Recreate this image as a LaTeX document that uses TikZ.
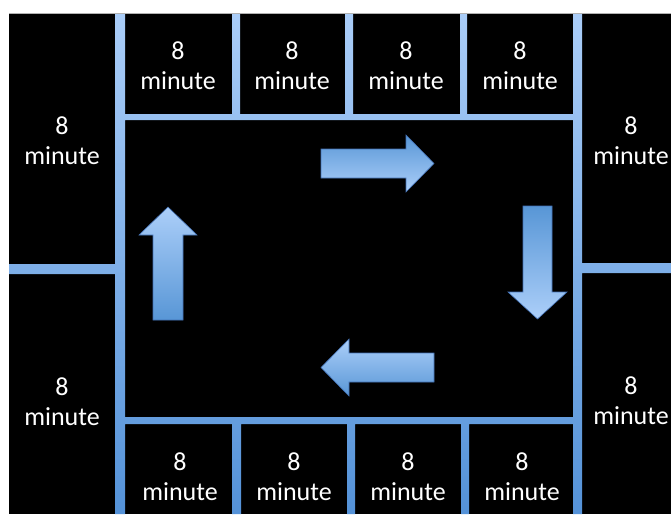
\documentclass[tikz,border=0pt]{standalone}
\usepackage{fontspec}
\setmainfont{Carlito}
\definecolor{barlight}{RGB}{170,205,248}
\definecolor{bardark}{RGB}{84,146,216}
\definecolor{arrlight}{RGB}{172,207,249}
\definecolor{arrdark}{RGB}{88,150,214}
\definecolor{arredge}{RGB}{66,112,180}
\begin{document}
\begin{tikzpicture}[x=1pt,y=-1pt,
  cell/.style={text=white,align=center,font=\fontsize{26}{30}\selectfont,inner sep=0pt},
  bars/.style={top color=barlight,bottom color=bardark},
  arrdown/.style={draw=arredge,line width=0.6pt,top color=arrdark,bottom color=arrlight},
  arrup/.style={draw=arredge,line width=0.6pt,top color=arrlight,bottom color=arrdark}]
\useasboundingbox (0,0) rectangle (671,514);
\fill[white] (0,0) rectangle (671,514);
\draw[gray!60,line width=1pt] (9,13.5) -- (671,13.5);
\fill[black] (9,14) rectangle (671,514);
% bars
\path[bars]
  (115,14) rectangle (125,514)
  (573,14) rectangle (582,514)
  (125,114) rectangle (573,120)
  (125,417) rectangle (573,424)
  (9,264) rectangle (115,274)
  (582,263) rectangle (671,273)
  (232,14) rectangle (240,114)
  (345,14) rectangle (353,114)
  (460,14) rectangle (467,114)
  (232,424) rectangle (241,514)
  (347,424) rectangle (355,514)
  (461,424) rectangle (469,514);
% arrows
\path[arrdown] (321,149) -- (406,149) -- (406,135) -- (434,163.5) -- (406,192) -- (406,178) -- (321,178) -- cycle;
\path[arrdown] (523,206) -- (552,206) -- (552,292) -- (567,292) -- (537.5,319) -- (508,292) -- (523,292) -- cycle;
\path[arrup] (434,353) -- (434,382) -- (349,382) -- (349,396) -- (321,367.5) -- (349,339) -- (349,353) -- cycle;
\path[arrup] (153,320) -- (153,235) -- (139,235) -- (168,207) -- (197,235) -- (183,235) -- (183,320) -- cycle;
% cells
\node[cell] (t1) at (178,66) {8\\minute};
\node[cell] (t2) at (292,66) {8\\minute};
\node[cell] (t3) at (406,66) {8\\minute};
\node[cell] (t4) at (520,66) {8\\minute};
\node[cell] (b1) at (180,477) {8\\minute};
\node[cell] (b2) at (294,477) {8\\minute};
\node[cell] (b3) at (408,477) {8\\minute};
\node[cell] (b4) at (522,477) {8\\minute};
\node[cell] (l1) at (62,141) {8\\minute};
\node[cell] (l2) at (62,402) {8\\minute};
\node[cell] (r1) at (631,141) {8\\minute};
\node[cell] (r2) at (631,401) {8\\minute};
\end{tikzpicture}
\end{document}
